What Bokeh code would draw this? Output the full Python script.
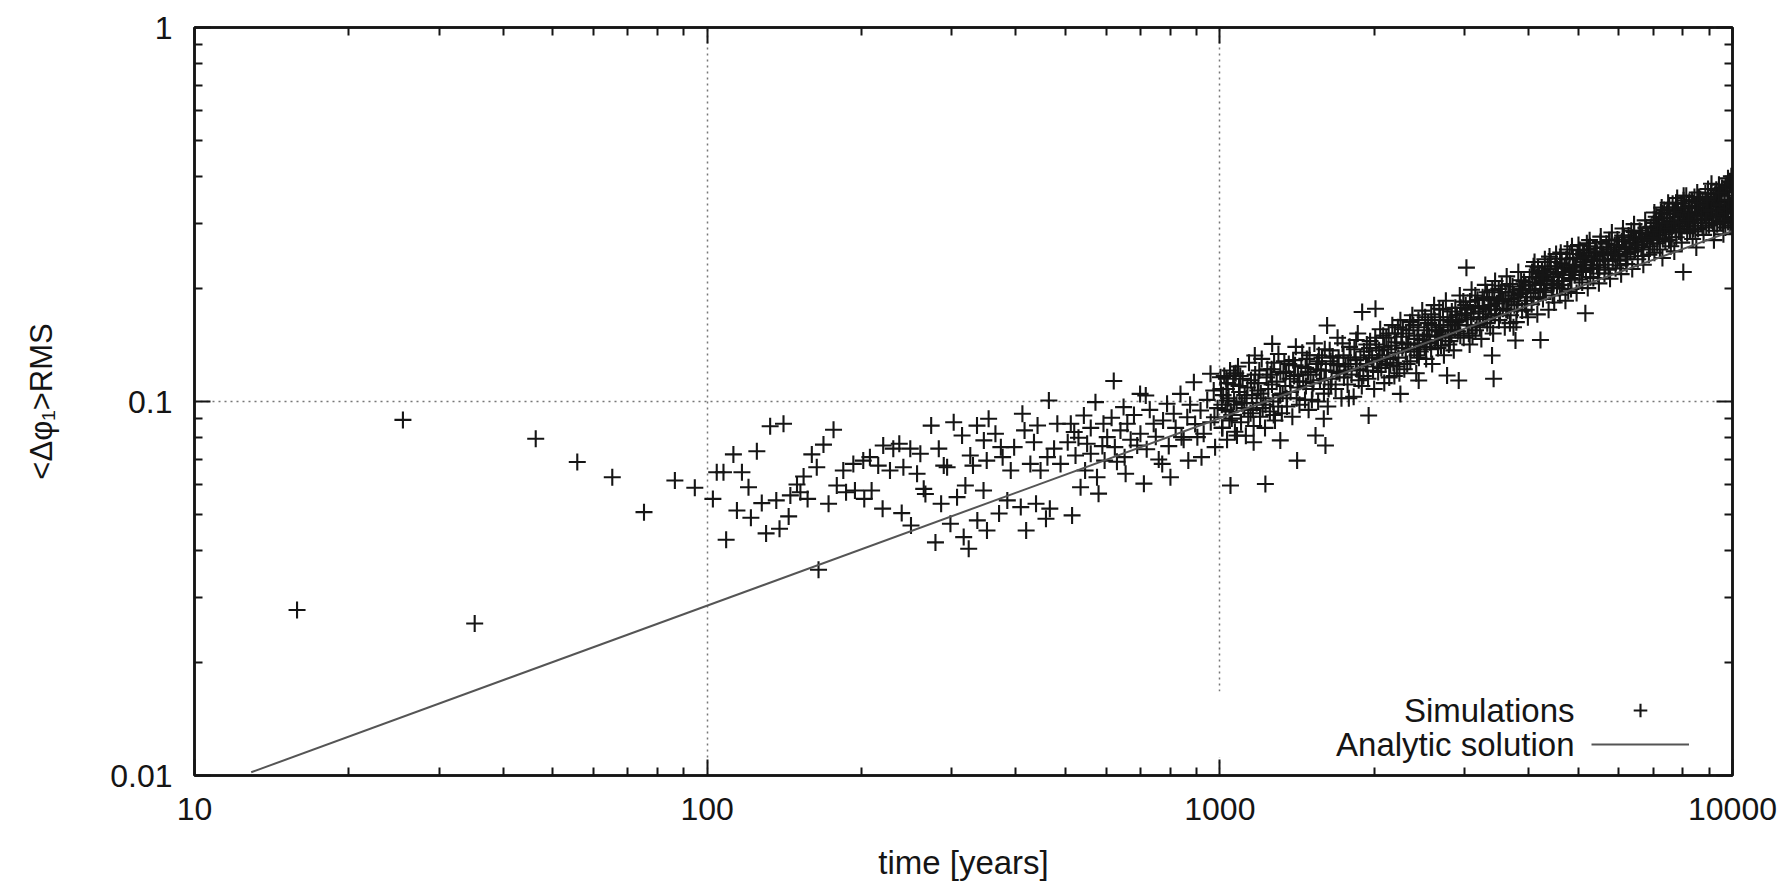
from bokeh.plotting import figure
from bokeh.models import (FixedTicker, LogAxis, CustomJSTickFormatter, Label,
                          Legend, LegendItem, BoxAnnotation)
from bokeh.embed import file_html
from bokeh.resources import INLINE

FONT = "Liberation Sans"
INK = "#151515"

# ---------------- data ----------------
x_major = [10, 100, 1000, 10000]
y_major = [0.01, 0.1, 1]
x_grid = [100, 1000]
y_grid = [0.1]

line_t = [12.9, 10000]
line_y = [0.0102, 0.286]

sim_sparse = [(15.85, .0277), (25.5, .0893), (35.2, .0255), (46.3, .0795), (55.8, .0689),
              (65.3, .0627), (75.3, .0506), (86.5, .0615), (94.6, .0588)]

sim_100_360 = [(102.6, .0549), (104.4, .0647), (107.6, .0647), (112.5, .0722), (116.9, .0647),
               (114.3, .0511), (108.9, .0427), (120.4, .0590), (121.7, .0489), (125.0, .0736),
               (127.8, .0535), (130.3, .0444), (132.7, .0859), (140.9, .0872), (136.4, .0544),
               (138.4, .0457), (144.2, .0493), (145.3, .0561), (149.7, .0600), (154.2, .0630),
               (152.0, .0572), (157.0, .0549), (160.0, .0722), (163.6, .0667), (168.6, .0767),
               (176.4, .0840), (172.5, .0533), (164.9, .0355), (179.0, .0596), (184.3, .0654),
               (186.6, .0572), (192.8, .0681), (194.2, .0578), (201.6, .0695), (202.5, .0549),
               (209.3, .0578), (207.7, .0710), (215.6, .0674), (220.5, .0763), (219.9, .0517),
               (227.3, .0654), (230.7, .0748), (237.0, .0771), (241.4, .0667), (239.6, .0503),
               (249.0, .0748), (249.8, .0466), (256.7, .0641), (260.5, .0725), (264.5, .0584),
               (266.5, .0566), (273.5, .0862), (278.8, .0420), (283.0, .0748), (286.0, .0533),
               (289.4, .0674), (293.8, .0667), (298.2, .0471), (302.6, .0880), (307.2, .0555),
               (314.2, .0811), (316.5, .0434), (323.7, .0404), (318.9, .0596), (326.0, .0717),
               (330.0, .0674), (336.0, .0862), (336.5, .0481), (346.0, .0578), (346.5, .0787),
               (351.4, .0452), (354.0, .0899)]

sim_350_1100 = [(621, .1134), (464, .1006), (572, .0996), (699, .1048), (717, .1038),
                (412, .0927), (416, .0837), (441, .0863), (482, .0872), (512, .0872),
                (543, .0917), (520, .0829), (365, .0820), (374, .0755), (397, .0755),
                (434, .0778), (475, .0748), (505, .0778), (551, .0771), (593, .0872),
                (649, .0966), (660, .0872), (743, .0872), (789, .0986), (838, .1048),
                (890, .1126), (959, .1186), (1003, .1161), (1065, .1186), (973, .1070),
                (1034, .1006), (813, .0927), (864, .0908), (917, .0946), (976, .0908),
                (603, .0803), (640, .0837), (700, .0820), (690, .0763), (624, .0755),
                (560, .0725), (523, .0717), (461, .0710), (489, .0681), (427, .0681),
                (391, .0654), (351, .0695), (377, .0710), (447, .0654), (546, .0654),
                (596, .0695), (652, .0710), (655, .0641), (772, .0681), (801, .0627),
                (868, .0695), (921, .0710), (979, .0755), (842, .0803), (904, .0803),
                (711, .0603), (576, .0627), (535, .0590), (580, .0567), (385, .0544),
                (409, .0522), (438, .0533), (466, .0517), (458, .0486), (515, .0496),
                (371, .0502), (419, .0452), (1049, .0596),
                (530, .0800), (560, .0850), (590, .0760), (615, .0905), (630, .0690),
                (670, .0790), (680, .0920), (720, .0745), (730, .0950), (750, .0805),
                (760, .0700), (775, .0890), (795, .0760), (820, .0850), (850, .0790),
                (875, .0980), (895, .0870), (930, .0820), (945, .1010), (960, .0880),
                (990, .0960), (1010, .0850), (1030, .1080), (1055, .0920)]

sim_1000_2000 = [(1005, .108), (1012, .085), (1020, .117), (1026, .095), (1033, .079), (1040, .102),
                 (1047, .121), (1055, .090), (1062, .111), (1070, .083), (1078, .098), (1085, .124),
                 (1093, .106), (1100, .088), (1108, .115), (1116, .096), (1124, .081), (1132, .109),
                 (1140, .127), (1148, .093), (1156, .104), (1164, .086), (1172, .118), (1180, .099),
                 (1189, .112), (1198, .091), (1207, .130), (1216, .102), (1225, .085), (1234, .116),
                 (1243, .108), (1252, .094), (1262, .122), (1271, .100), (1281, .089), (1291, .113),
                 (1301, .134), (1311, .104), (1321, .093), (1331, .119), (1342, .110), (1352, .097),
                 (1363, .126), (1374, .106), (1385, .091), (1396, .117), (1407, .140), (1418, .109),
                 (1430, .098), (1442, .124), (1454, .113), (1466, .101), (1478, .130), (1490, .095),
                 (1503, .118), (1516, .108), (1529, .143), (1542, .122), (1555, .100), (1568, .114),
                 (1582, .131), (1596, .105), (1610, .121), (1624, .097), (1638, .137), (1652, .115),
                 (1667, .126), (1682, .108), (1697, .148), (1712, .119), (1727, .102), (1743, .133),
                 (1759, .124), (1775, .111), (1791, .140), (1807, .118), (1824, .103), (1841, .129),
                 (1858, .152), (1875, .121), (1892, .110), (1910, .136), (1928, .126), (1946, .115),
                 (1964, .145), (1982, .131), (2000, .108),
                 (1009, .098), (1036, .112), (1066, .100), (1096, .117), (1128, .102), (1160, .095),
                 (1194, .121), (1228, .098), (1264, .111), (1300, .097), (1336, .128), (1370, .115),
                 (1412, .102), (1448, .135), (1486, .120), (1522, .112), (1560, .133), (1600, .115),
                 (1644, .128), (1690, .120), (1735, .143), (1780, .126), (1830, .138), (1880, .131),
                 (1935, .142), (1990, .121), (1050, .094), (1118, .104), (1186, .107), (1256, .118),
                 (1326, .105), (1402, .125), (1472, .110), (1548, .126), (1630, .108), (1705, .131),
                 (1785, .102), (1866, .114), (1955, .133),
                 (1015, .104), (1044, .089), (1074, .119), (1104, .099), (1136, .091), (1168, .112),
                 (1202, .105), (1238, .122), (1274, .092), (1312, .120), (1350, .102), (1390, .129),
                 (1430, .113), (1470, .123), (1512, .101), (1556, .128), (1602, .138), (1648, .111),
                 (1696, .125), (1746, .116), (1798, .131), (1850, .122), (1905, .117), (1960, .139),
                 (1030, .115), (1090, .110), (1150, .114), (1212, .096), (1276, .127), (1346, .120),
                 (1420, .118), (1496, .133), (1576, .121), (1660, .132), (1750, .121), (1845, .146),
                 (1940, .124)]

sim_2000_4000 = [(2018, .142), (2036, .120), (2055, .156), (2074, .133), (2093, .112), (2112, .148),
                 (2131, .138), (2150, .125), (2170, .160), (2190, .117), (2210, .144), (2230, .131),
                 (2250, .165), (2270, .139), (2290, .122), (2311, .152), (2332, .143), (2353, .128),
                 (2374, .170), (2395, .147), (2416, .119), (2438, .158), (2460, .136), (2482, .175),
                 (2504, .151), (2526, .130), (2549, .162), (2572, .144), (2595, .126), (2618, .181),
                 (2641, .155), (2664, .139), (2688, .168), (2712, .150), (2736, .133), (2760, .186),
                 (2785, .160), (2810, .145), (2835, .174), (2860, .137), (2886, .163), (2912, .154),
                 (2938, .192), (2964, .170), (2990, .148), (3017, .181), (3044, .160), (3071, .142),
                 (3098, .199), (3125, .172), (3153, .155), (3181, .187), (3209, .166), (3237, .147),
                 (3266, .178), (3295, .205), (3324, .162), (3353, .190), (3383, .171), (3413, .152),
                 (3443, .210), (3473, .183), (3503, .165), (3534, .196), (3565, .177), (3596, .158),
                 (3627, .216), (3659, .188), (3691, .170), (3723, .203), (3755, .181), (3788, .163),
                 (3821, .222), (3854, .194), (3887, .175), (3921, .209), (3955, .186), (3989, .168),
                 (2027, .128), (2083, .150), (2140, .116), (2200, .135), (2260, .149), (2320, .126),
                 (2385, .160), (2449, .142), (2515, .168), (2583, .138), (2653, .149), (2724, .176),
                 (2797, .142), (2873, .155), (2951, .178), (3030, .166), (3111, .150), (3195, .174),
                 (3280, .188), (3368, .158), (3458, .176), (3549, .204), (3643, .175), (3739, .158),
                 (3837, .199), (3938, .182),
                 (2045, .137), (2120, .130), (2195, .152), (2275, .156), (2355, .138), (2430, .150),
                 (2510, .140), (2590, .160), (2675, .158), (2755, .148), (2845, .163), (2930, .160),
                 (3010, .172), (3090, .168), (3170, .160), (3255, .190), (3340, .176), (3430, .186),
                 (3520, .170), (3610, .196), (3705, .185), (3800, .176), (3900, .200), (3975, .190),
                 (2065, .123), (2160, .141), (2240, .119), (2340, .155), (2425, .133), (2530, .143),
                 (2625, .165), (2700, .141), (2820, .155), (2900, .170), (3060, .152), (3150, .180),
                 (3300, .168), (3400, .198), (3580, .186), (3680, .162), (3870, .211),
                 (2010, .148), (2050, .130), (2090, .140), (2135, .152), (2180, .127), (2225, .158),
                 (2265, .143), (2305, .136), (2350, .163), (2395, .138), (2440, .165), (2488, .146),
                 (2535, .155), (2585, .171), (2630, .146), (2680, .177), (2730, .160), (2780, .168),
                 (2830, .151), (2880, .178), (2935, .164), (2985, .185), (3040, .176), (3095, .160),
                 (3150, .192), (3205, .178), (3260, .168), (3320, .196), (3380, .181), (3440, .171),
                 (3500, .200), (3560, .186), (3620, .176), (3680, .206), (3745, .192), (3810, .182),
                 (3875, .198), (3945, .204), (2105, .126), (2215, .124), (2325, .142), (2445, .131),
                 (2560, .150), (2690, .154), (2815, .165), (2945, .150), (3075, .185), (3215, .158),
                 (3355, .180), (3505, .188), (3655, .196), (3815, .190), (3960, .176)]

sim_4000_7000 = [(4023, .215), (4057, .182), (4092, .230), (4127, .198), (4162, .171), (4197, .220),
                 (4233, .206), (4269, .188), (4305, .240), (4341, .212), (4378, .176), (4415, .226),
                 (4452, .201), (4490, .184), (4528, .248), (4566, .219), (4605, .193), (4644, .234),
                 (4683, .210), (4722, .186), (4762, .255), (4802, .226), (4842, .200), (4883, .242),
                 (4924, .218), (4965, .195), (5007, .262), (5049, .232), (5091, .208), (5134, .250),
                 (5177, .224), (5220, .201), (5264, .270), (5308, .240), (5352, .214), (5397, .257),
                 (5442, .231), (5488, .207), (5534, .276), (5580, .246), (5627, .220), (5674, .264),
                 (5721, .238), (5769, .213), (5817, .283), (5866, .252), (5915, .227), (5964, .271),
                 (6014, .245), (6064, .219), (6115, .290), (6166, .259), (6217, .233), (6269, .278),
                 (6321, .251), (6374, .226), (6427, .298), (6481, .266), (6535, .240), (6590, .286),
                 (6645, .258), (6700, .232), (6756, .305), (6812, .273), (6869, .247), (6926, .293),
                 (6984, .264),
                 (4040, .195), (4110, .236), (4180, .190), (4250, .224), (4323, .196), (4396, .244),
                 (4471, .215), (4547, .202), (4624, .250), (4703, .228), (4782, .197), (4863, .260),
                 (4944, .230), (5028, .212), (5112, .246), (5199, .265), (5286, .226), (5375, .244),
                 (5465, .220), (5557, .258), (5651, .232), (5745, .270), (5841, .240), (5940, .262),
                 (6039, .231), (6140, .275), (6243, .244), (6348, .286), (6454, .255), (6562, .272),
                 (6673, .245), (6784, .290), (6898, .260),
                 (4075, .208), (4145, .215), (4215, .200), (4290, .210), (4360, .230), (4435, .205),
                 (4510, .230), (4585, .210), (4665, .222), (4740, .240), (4820, .214), (4905, .232),
                 (4985, .248), (5070, .222), (5155, .236), (5240, .255), (5330, .232), (5420, .250),
                 (5510, .238), (5605, .248), (5700, .258), (5795, .250), (5890, .262), (5990, .255),
                 (6090, .268), (6190, .248), (6295, .265), (6400, .274), (6510, .262), (6620, .282),
                 (6730, .268), (6840, .280), (6955, .276),
                 (4010, .205), (4065, .222), (4120, .205), (4175, .228), (4235, .213), (4295, .198),
                 (4355, .222), (4420, .236), (4480, .207), (4545, .227), (4610, .241), (4675, .218),
                 (4745, .232), (4815, .248), (4885, .224), (4960, .240), (5035, .254), (5110, .228),
                 (5190, .244), (5270, .260), (5350, .238), (5435, .252), (5525, .267), (5615, .240),
                 (5710, .255), (5805, .270), (5905, .247), (6005, .262), (6105, .278), (6210, .256),
                 (6320, .270), (6430, .284), (6545, .262), (6660, .276), (6780, .292), (6900, .270),
                 (4090, .190), (4270, .218), (4460, .192), (4650, .205), (4850, .212), (5060, .242),
                 (5280, .215), (5500, .228), (5730, .225), (5960, .238), (6200, .240), (6440, .252),
                 (6700, .255), (6960, .282)]

sim_7000_10000 = [(7042, .250), (7100, .312), (7158, .279), (7217, .255), (7276, .330), (7336, .296),
                  (7396, .268), (7457, .318), (7518, .287), (7580, .260), (7642, .338), (7705, .303),
                  (7768, .275), (7832, .325), (7896, .294), (7961, .266), (8026, .345), (8092, .310),
                  (8158, .282), (8225, .333), (8292, .300), (8360, .272), (8429, .352), (8498, .318),
                  (8568, .289), (8638, .340), (8709, .307), (8781, .279), (8853, .360), (8926, .325),
                  (8999, .296), (9073, .348), (9147, .314), (9222, .286), (9298, .368), (9374, .332),
                  (9451, .303), (9529, .356), (9607, .321), (9686, .292), (9765, .378), (9845, .340),
                  (9926, .310), (9990, .362),
                  (7070, .290), (7130, .265), (7190, .300), (7250, .320), (7310, .272), (7370, .309),
                  (7430, .283), (7490, .340), (7550, .298), (7610, .275), (7675, .318), (7740, .290),
                  (7800, .350), (7865, .312), (7930, .283), (7995, .322), (8060, .295), (8125, .355),
                  (8190, .318), (8260, .288), (8330, .328), (8395, .305), (8465, .285), (8535, .362),
                  (8605, .330), (8675, .300), (8745, .345), (8820, .318), (8890, .292), (8960, .370),
                  (9035, .335), (9110, .305), (9185, .352), (9260, .325), (9335, .298), (9410, .380),
                  (9490, .342), (9570, .312), (9645, .365), (9725, .330), (9805, .302), (9885, .388),
                  (9960, .325),
                  (7020, .300), (7115, .285), (7205, .310), (7290, .300), (7385, .290), (7470, .325),
                  (7565, .310), (7655, .295), (7755, .330), (7850, .305), (7945, .338), (8040, .318),
                  (8140, .302), (8240, .342), (8345, .315), (8450, .330), (8550, .305), (8655, .348),
                  (8760, .328), (8865, .340), (8975, .318), (9085, .360), (9195, .338), (9305, .345),
                  (9420, .322), (9535, .372), (9650, .345), (9770, .355), (9890, .335), (9975, .345),
                  (7010, .275), (7080, .305), (7150, .295), (7225, .285), (7300, .318), (7375, .280),
                  (7450, .300), (7525, .330), (7600, .290), (7680, .305), (7760, .340), (7840, .300),
                  (7920, .315), (8000, .302), (8085, .330), (8170, .295), (8255, .320), (8340, .345),
                  (8425, .300), (8515, .322), (8605, .352), (8695, .312), (8785, .335), (8875, .308),
                  (8970, .350), (9065, .322), (9160, .300), (9255, .358), (9350, .315), (9450, .335),
                  (9550, .300), (9650, .328), (9750, .318), (9850, .365), (9945, .308), (7040, .320),
                  (7200, .272), (7360, .325), (7520, .270), (7690, .322), (7860, .285), (8030, .355),
                  (8200, .305), (8380, .290), (8560, .340), (8740, .295), (8920, .345), (9100, .325),
                  (9280, .310), (9460, .360), (9640, .305), (9820, .345), (9985, .300), (9930, .385),
                  (9700, .375), (9400, .362), (9100, .382),
                  (7300, .242), (7700, .252), (8017, .222), (8500, .258), (9200, .270), (9600, .280),
                  (9900, .295), (9950, .400), (9800, .395)]

sim_outliers = [(3027, .228), (1415, .0695), (1227, .0602), (1607, .0763), (1537, .0811),
                (1312, .0787), (1164, .0778), (1080, .0811), (1951, .0917), (1595, .0899),
                (2250, .1048), (2443, .1138), (2924, .1138), (2775, .1174), (1895, .1735),
                (2012, .1770), (1619, .1597), (1265, .1426), (1170, .1327), (3396, .1327),
                (3420, .115), (3773, .1456), (4221, .146), (5164, .1722)]

sim_all = (sim_sparse + sim_100_360 + sim_350_1100 + sim_1000_2000 + sim_2000_4000
           + sim_4000_7000 + sim_7000_10000 + sim_outliers)
sim_t = [a for a, b in sim_all]
sim_y = [b for a, b in sim_all]

# ---------------- figure ----------------
p = figure(x_axis_type="log", y_axis_type="log", x_range=(10, 10000), y_range=(0.01, 1),
           frame_width=1538, frame_height=748,
           min_border_left=194, min_border_right=51, min_border_top=27, min_border_bottom=107,
           output_backend="svg", toolbar_location=None,
           background_fill_color="white", border_fill_color="white")
p.outline_line_color = INK
p.outline_line_width = 2.5

x_minor = [m * 10 ** k for k in range(1, 4) for m in range(2, 10)]
y_minor = [m * 10.0 ** k for k in range(-2, 0) for m in range(2, 10)]
xt = FixedTicker(ticks=x_major, minor_ticks=x_minor)
yt = FixedTicker(ticks=y_major, minor_ticks=y_minor)
fmt = CustomJSTickFormatter(code="return String(tick);")
blank = CustomJSTickFormatter(code="return '';")

p.below[0].ticker = xt
p.below[0].formatter = fmt
p.left[0].ticker = yt
p.left[0].formatter = fmt
top_ax = LogAxis(ticker=xt, formatter=blank, major_label_standoff=0)
right_ax = LogAxis(ticker=yt, formatter=blank, major_label_standoff=0)
p.add_layout(top_ax, "above")
p.add_layout(right_ax, "right")

for ax in p.axis:
    ax.major_tick_in = 16
    ax.major_tick_out = 0
    ax.minor_tick_in = 8
    ax.minor_tick_out = 0
    ax.major_tick_line_width = 2
    ax.minor_tick_line_width = 2
    ax.major_tick_line_color = INK
    ax.minor_tick_line_color = INK
    ax.axis_line_color = INK
    ax.axis_line_width = 2.5
    ax.major_label_text_font = FONT
    ax.major_label_text_font_size = "32px"
    ax.major_label_text_color = INK

xb = p.below[0]
xb.major_label_standoff = 22
xb.axis_label = "time [years]"
xb.axis_label_text_font = FONT
xb.axis_label_text_font_size = "33px"
xb.axis_label_text_font_style = "normal"
xb.axis_label_text_color = INK
xb.axis_label_standoff = 21

yl = p.left[0]
yl.major_label_standoff = 22
yl.axis_label = "<Δφ₁>RMS"
yl.axis_label_text_font = FONT
yl.axis_label_text_font_size = "31px"
yl.axis_label_text_font_style = "normal"
yl.axis_label_text_color = INK
yl.axis_label_standoff = 48

p.xgrid.ticker = FixedTicker(ticks=x_grid)
p.ygrid.ticker = FixedTicker(ticks=y_grid)
p.grid.grid_line_color = "#777777"
p.grid.grid_line_dash = "2 4"
p.grid.grid_line_width = 1.5

# key area hides the lower part of the grid line (as the gnuplot key does)
p.add_layout(BoxAnnotation(left=1006, right=1050, bottom=18, top=84,
                           left_units="screen", right_units="screen",
                           bottom_units="screen", top_units="screen",
                           fill_color="white", fill_alpha=1, line_alpha=0, level="underlay"))

r_sim = p.scatter(sim_t, sim_y, marker="cross", size=17, line_color=INK, line_width=2.1)
r_line = p.line(line_t, line_y, line_color="#555555", line_width=2)

leg = Legend(items=[LegendItem(label="", renderers=[r_sim]),
                    LegendItem(label="", renderers=[r_line])],
             location="bottom_right", margin=0, padding=14, glyph_width=98, glyph_height=34,
             label_standoff=29, label_width=0, spacing=0,
             border_line_alpha=0, background_fill_alpha=0)
p.add_layout(leg)

for txt, yy in [("Simulations", 65), ("Analytic solution", 31)]:
    p.add_layout(Label(x=1380, y=yy, x_units="screen", y_units="screen", text=txt,
                       text_align="right", text_baseline="middle", text_font=FONT,
                       text_font_size="33px", text_color=INK))

open("out.html", "w").write(file_html(p, INLINE))
